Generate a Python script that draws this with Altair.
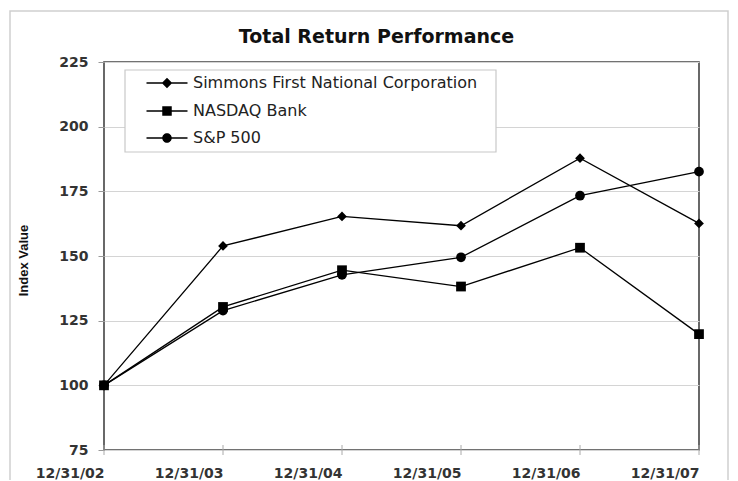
import altair as alt
import pandas as pd

dates = ["12/31/02", "12/31/03", "12/31/04", "12/31/05", "12/31/06", "12/31/07"]
series_names = ["Simmons First National Corporation", "NASDAQ Bank", "S&P 500"]
marker_shapes = ["diamond", "square", "circle"]
simmons = [100, 153.9, 165.3, 161.7, 187.8, 162.6]
nasdaq_bank = [100, 130.3, 144.5, 138.2, 153.2, 119.8]
sp500 = [100, 128.9, 142.7, 149.5, 173.3, 182.6]
y_ticks = [75, 100, 125, 150, 175, 200, 225]

rows = []
for name, vals in zip(series_names, [simmons, nasdaq_bank, sp500]):
    for d, v in zip(dates, vals):
        rows.append({"date": d, "series": name, "value": v})
df = pd.DataFrame(rows)

W, H = 595, 388
FONT = "DejaVu Sans"

x_scale = alt.Scale(type="point", domain=dates, padding=0)
x_enc = alt.X("date:O", sort=dates, scale=x_scale,
              axis=alt.Axis(title=None, labelAngle=0, labelFont=FONT, labelFontSize=14,
                            labelFontWeight="bold", labelColor="#333", ticks=False, tickSize=0,
                            labelPadding=23, domain=False, grid=False))
x_plain = alt.X("date:O", sort=dates, scale=x_scale)
y_enc = alt.Y("value:Q", scale=alt.Scale(domain=[75, 225], nice=False, zero=False),
              axis=alt.Axis(values=y_ticks, title="Index Value", titleFont="Liberation Sans",
                            titleFontSize=13, titleFontWeight="bold", titleColor="#111",
                            titleAngle=270, titleX=-81, titleY=H / 2 + 4, titleAlign="center",
                            titleBaseline="middle",
                            labelFont=FONT, labelFontSize=14, labelFontWeight="bold",
                            labelColor="#333", tickSize=6, tickColor="#999", labelPadding=10,
                            domain=False, grid=True, gridColor="#d4d4d4", gridWidth=1.2))

one = pd.DataFrame({"k": [0]})

outer_border = alt.Chart(one).mark_rect(fill=None, stroke="#cfcfcf", strokeWidth=1.5).encode(
    x=alt.value(-94), x2=alt.value(624), y=alt.value(-51), y2=alt.value(440))

legend_box = alt.Chart(one).mark_rect(fill="white", stroke="#c8c8c8", strokeWidth=1.2).encode(
    x=alt.value(21), x2=alt.value(392), y=alt.value(8), y2=alt.value(90))

tick_df = pd.DataFrame({"date": dates})
x_ticks = alt.Chart(tick_df).mark_rule(color="#aaaaaa", strokeWidth=1).encode(
    x=x_plain, y=alt.value(H - 5), y2=alt.value(H + 5))

lines = alt.Chart(df).mark_line(color="black", strokeWidth=1.3).encode(
    x=x_enc, y=y_enc, detail="series:N")

# NASDAQ drawn last so its square sits on top at the common start point
point_layers = []
for idx in [0, 2, 1]:
    point_layers.append(
        alt.Chart(df).transform_filter(alt.datum.series == series_names[idx])
        .mark_point(filled=True, color="black", opacity=1, size=95, shape=marker_shapes[idx])
        .encode(x=x_plain, y="value:Q")
    )

# legend symbols: a thin filled bar (the line) plus the marker
bar = "M-4.1,-0.14L4.1,-0.14L4.1,0.14L-4.1,0.14Z"
leg_paths = [
    bar + "M0,-1.05L1.05,0L0,1.05L-1.05,0Z",
    bar + "M-0.95,-0.95L0.95,-0.95L0.95,0.95L-0.95,0.95Z",
    bar + "M0.95,0A0.95,0.95,0,1,1,-0.95,0A0.95,0.95,0,1,1,0.95,0Z",
]
legend_layer = alt.Chart(df).mark_point(filled=True, color="black", opacity=0).encode(
    x=x_plain, y="value:Q",
    shape=alt.Shape("series:N", scale=alt.Scale(domain=series_names, range=leg_paths),
                    legend=alt.Legend(title=None, orient="none", legendX=43, legendY=13,
                                      padding=0, symbolSize=100, symbolOffset=12,
                                      labelOffset=18, symbolOpacity=1,
                                      symbolFillColor="black", labelFont=FONT,
                                      labelFontSize=16, labelColor="#222",
                                      rowPadding=11, labelLimit=400)))

chart = alt.layer(outer_border, legend_box, x_ticks, lines, *point_layers, legend_layer).properties(
    width=W, height=H,
    title=alt.TitleParams("Total Return Performance", font=FONT, fontSize=19,
                          fontWeight="bold", color="#111", anchor="middle", dx=-25,
                          frame="group", baseline="alphabetic", offset=0, dy=52),
    autosize=alt.AutoSizeParams(type="none"),
    padding={"left": 96, "top": 54, "right": 30, "bottom": 30},
).configure_view(stroke="#444", strokeWidth=1.6)

chart.save("out.html", embed_options={"renderer": "svg", "actions": False})
